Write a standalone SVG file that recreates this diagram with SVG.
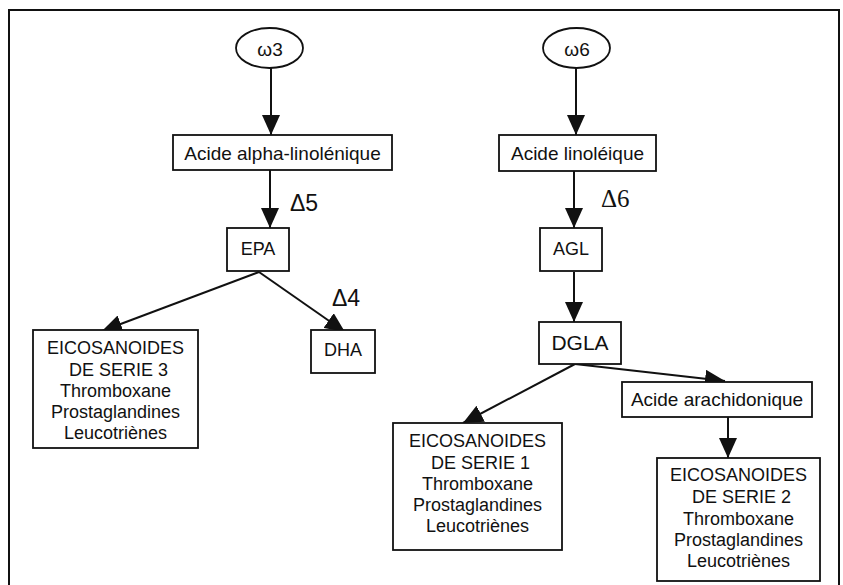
<svg xmlns="http://www.w3.org/2000/svg" width="843" height="585" viewBox="0 0 843 585">
<style>
.box{fill:#fff;stroke:#111;stroke-width:1.8}
.t{font-family:"Liberation Sans",Arial,sans-serif;font-size:18px;fill:#111;text-anchor:middle}
.a{font-size:19px}
.d{font-family:"Liberation Sans",Arial,sans-serif;font-size:23px;fill:#111}
.c{stroke:#111;stroke-width:2;fill:none;marker-end:url(#ah)}
</style>
<defs>
<marker id="ah" markerUnits="userSpaceOnUse" markerWidth="20" markerHeight="18" refX="20" refY="9" orient="auto" viewBox="0 0 20 18">
<path d="M0,0 L20,9 L0,18 Z" fill="#111"/>
</marker>
</defs>
<rect width="843" height="585" fill="#fff"/>
<path id="frame" d="M9,585 V10 H839 V585" fill="none" stroke="#111" stroke-width="2"/>

<g id="connectors">
<line class="c" x1="271" y1="68" x2="271" y2="135"/>
<line class="c" x1="270" y1="170" x2="270" y2="228"/>
<line class="c" x1="259" y1="272" x2="102" y2="331"/>
<line class="c" x1="259" y1="272" x2="345" y2="332"/>
<line class="c" x1="576" y1="68" x2="576" y2="135"/>
<line class="c" x1="574" y1="171" x2="574" y2="228"/>
<line class="c" x1="574" y1="272" x2="574" y2="322"/>
<line class="c" x1="575" y1="364" x2="463" y2="423"/>
<line class="c" x1="575" y1="364" x2="725" y2="381"/>
<line class="c" x1="728" y1="417" x2="728" y2="458"/>
</g>

<g id="omega3">
<ellipse cx="269.5" cy="48" rx="33.5" ry="20" class="box"/>
<text class="t a" x="270" y="56">ω3</text>
</g>
<g id="omega6">
<ellipse cx="576.5" cy="48" rx="33.5" ry="20" class="box"/>
<text class="t a" x="577" y="56">ω6</text>
</g>
<g id="alpha">
<rect class="box" x="173" y="135" width="219" height="35"/>
<text class="t a" x="282.5" y="160">Acide alpha-linolénique</text>
</g>
<g id="lino">
<rect class="box" x="499" y="135" width="157" height="36"/>
<text class="t a" x="577.5" y="160">Acide linoléique</text>
</g>
<g id="epa">
<rect class="box" x="227" y="228" width="62" height="43"/>
<text class="t" x="258" y="255">EPA</text>
</g>
<g id="agl">
<rect class="box" x="540" y="228" width="62" height="43"/>
<text class="t" x="571" y="255">AGL</text>
</g>
<g id="dha">
<rect class="box" x="311" y="330" width="64" height="43"/>
<text class="t" x="343" y="356">DHA</text>
</g>
<g id="dgla">
<rect class="box" x="539" y="322" width="82" height="42"/>
<text class="t" x="580" y="350" style="font-size:21px">DGLA</text>
</g>
<g id="arach">
<rect class="box" x="622" y="382" width="190" height="35"/>
<text class="t a" x="717" y="406">Acide arachidonique</text>
</g>
<g id="eico3">
<rect class="box" x="33" y="330" width="165" height="118"/>
<text class="t" x="115.5" y="354">EICOSANOIDES</text>
<text class="t" x="118.5" y="376">DE SERIE 3</text>
<text class="t" x="115.5" y="397">Thromboxane</text>
<text class="t" x="115.5" y="418">Prostaglandines</text>
<text class="t" x="115.5" y="439">Leucotriènes</text>
</g>
<g id="eico1">
<rect class="box" x="393" y="423" width="169" height="127"/>
<text class="t" x="477.5" y="447">EICOSANOIDES</text>
<text class="t" x="480.5" y="469">DE SERIE 1</text>
<text class="t" x="477.5" y="490">Thromboxane</text>
<text class="t" x="477.5" y="511">Prostaglandines</text>
<text class="t" x="477.5" y="532">Leucotriènes</text>
</g>
<g id="eico2">
<rect class="box" x="657" y="458" width="163" height="123"/>
<text class="t" x="738.5" y="481">EICOSANOIDES</text>
<text class="t" x="741.5" y="503">DE SERIE 2</text>
<text class="t" x="738.5" y="525">Thromboxane</text>
<text class="t" x="738.5" y="546">Prostaglandines</text>
<text class="t" x="738.5" y="567">Leucotriènes</text>
</g>
<g id="labels">
<text class="d" x="290" y="211">Δ5</text>
<text class="d" x="332" y="306">Δ4</text>
<text class="d" x="601" y="207" style="font-family:'Liberation Serif','Times New Roman',serif;font-size:25px">Δ6</text>
</g>
</svg>
